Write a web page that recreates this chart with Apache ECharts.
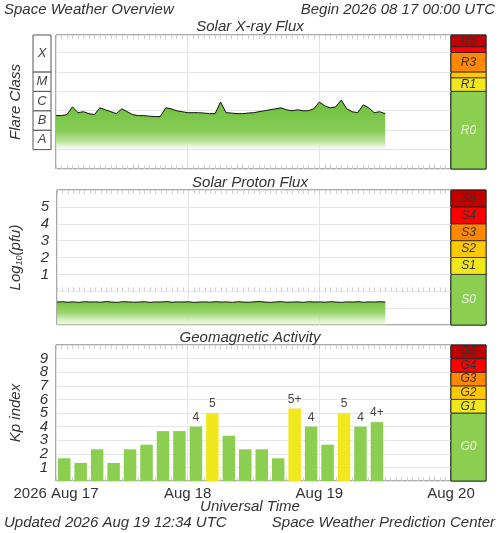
<!DOCTYPE html>
<html><head><meta charset="utf-8">
<script src="https://cdn.jsdelivr.net/npm/echarts@6/dist/echarts.min.js"></script>
<style>html,body{margin:0;padding:0;background:#fff}#c{width:500px;height:533px}</style>
</head><body><div id="c"></div>
<script>
// hours since 2026 Aug 17 00:00 UTC
const xrayHours = Array.from({length:61},(_, i)=>i);
const xrayLog = [-6.25,-6.25,-6.2,-5.8,-6.1,-6.05,-6.15,-6.2,-5.85,-5.95,-6.05,-6.15,-5.9,-6.05,-6.2,-6.25,-6.25,-6.28,-6.3,-6.3,-5.85,-5.9,-6.0,-6.05,-6.1,-6.1,-6.1,-6.12,-6.15,-6.15,-5.55,-6.1,-6.12,-6.15,-6.15,-6.12,-6.1,-6.05,-6.0,-5.95,-5.9,-5.85,-5.95,-6.0,-5.95,-6.0,-6.0,-5.9,-5.55,-5.75,-5.85,-5.8,-5.45,-5.9,-6.05,-6.1,-5.7,-5.85,-6.1,-6.05,-6.15];
const protonLog = [-0.64,-0.62,-0.65,-0.63,-0.66,-0.62,-0.64,-0.63,-0.65,-0.61,-0.64,-0.66,-0.62,-0.63,-0.65,-0.64,-0.62,-0.66,-0.63,-0.64,-0.61,-0.65,-0.63,-0.64,-0.62,-0.66,-0.64,-0.63,-0.65,-0.62,-0.64,-0.63,-0.66,-0.62,-0.64,-0.65,-0.63,-0.61,-0.64,-0.66,-0.63,-0.62,-0.65,-0.64,-0.63,-0.66,-0.62,-0.64,-0.63,-0.65,-0.62,-0.64,-0.66,-0.63,-0.64,-0.62,-0.65,-0.63,-0.64,-0.62,-0.64];
const kpHours = [1.5,4.5,7.5,10.5,13.5,16.5,19.5,22.5,25.5,28.5,31.5,34.5,37.5,40.5,43.5,46.5,49.5,52.5,55.5,58.5];
const kpValues = [1.67,1.33,2.33,1.33,2.33,2.67,3.67,3.67,4,5,3.33,2.33,2.33,1.67,5.33,4,2.67,5,4,4.33];
const kpLabels = ['','','','','','','','','4','5','','','','','5+','4','','5','4','4+'];
const dayTicks = [0,24,48,72];
const dayLabels = ['2026 Aug 17','Aug 18','Aug 19','Aug 20'];
const flareClasses = [['A',-8,-7],['B',-7,-6],['C',-6,-5],['M',-5,-4],['X',-4,-2.1]];
const rScale = [['R0',-9,-5,'#8cce50'],['R1',-5,-4.3,'#f0e81c'],['',-4.3,-4,'#ffc800'],['R3',-4,-3,'#ff8800'],['',-3,-2.7,'#ff0000'],['R5',-2.7,-2.1,'#c00000']];
const sScale = [['S0',-2,1,'#8cce50'],['S1',1,2,'#f0e81c'],['S2',2,3,'#ffc800'],['S3',3,4,'#ff8800'],['S4',4,5,'#ff0000'],['S5',5,6,'#c00000']];
const gScale = [['G0',0,5,'#8cce50'],['G1',5,6,'#f0e81c'],['G2',6,7,'#ffc800'],['G3',7,8,'#ff8800'],['G4',8,9,'#ff0000'],['G5',9,10,'#c00000']];

const F = 'Liberation Sans';
const txt = '#333';
const chart = echarts.init(document.getElementById('c'));
const panels = [{top:35,h:134,min:-9,max:-2.1},{top:190,h:135,min:-2,max:6},{top:345,h:136,min:0,max:10}];
const grids=[], xAxes=[], yAxes=[], series=[];
function addGrid(g){grids.push(g);return grids.length-1;}
panels.forEach((p,pi)=>{
  const gi = addGrid({left:51,width:400,top:p.top,height:p.h,show:true,borderColor:'#555',borderWidth:1,backgroundColor:'#fff'});
  ['bottom','top'].forEach(pos=>{
    xAxes.push({type:'value',gridIndex:gi,min:0,max:72,interval:24,position:pos,
      axisLine:{show:false},axisTick:{show:true,inside:true,length:4,lineStyle:{color:'#d0d0d0'}},
      minorTick:{show:true,splitNumber:24,length:4,lineStyle:{color:'#d0d0d0'}},
      axisLabel:{show:pos==='bottom'&&pi===2,fontFamily:F,fontSize:15,color:txt,margin:5,
        formatter:v=>dayLabels[dayTicks.indexOf(v)]||''},
      splitLine:{show:pos==='bottom',lineStyle:{color:'#e6e6e6'}}});
  });
  yAxes.push({type:'value',gridIndex:gi,min:p.min,max:p.max,interval:1,
    axisLine:{show:false},axisTick:{show:false},
    axisLabel:{show:pi>0,fontFamily:F,fontStyle:'italic',fontSize:15,color:txt,margin:8,
      formatter:v=>(v>=1&&v<=(pi===1?5:9))?String(v):''},
    splitLine:{show:true,lineStyle:{color:'#e6e6e6'}},
    name:['Flare Class','{a|Log}{s|10}{a|(pfu)}','Kp index'][pi],nameLocation:'middle',nameRotate:90,
    nameGap:33,nameTextStyle:{fontFamily:F,fontStyle:'italic',fontSize:15,color:txt,
      rich:{a:{fontFamily:F,fontStyle:'italic',fontSize:15,color:txt},s:{fontFamily:F,fontStyle:'italic',fontSize:9,color:txt,verticalAlign:'bottom',padding:[8,0,0,0]}}}});
  const ax = xAxes.length-2, ay = yAxes.length-1;
  const fill0 = {type:'linear',x:0,y:0,x2:0,y2:1,colorStops:[{offset:0,color:'#6cbf3a'},{offset:0.45,color:'#88cc58'},{offset:0.62,color:'#c4e6a8'},{offset:0.75,color:'rgba(255,255,255,0)'}]};
  const fill1 = {type:'linear',x:0,y:0,x2:0,y2:1,colorStops:[{offset:0,color:'#76c340'},{offset:0.5,color:'#9ad670'},{offset:1,color:'rgba(210,240,190,0.3)'}]};
  if(pi===0) series.push({type:'line',xAxisIndex:ax,yAxisIndex:ay,data:xrayHours.map((h,i)=>[h,xrayLog[i]]),showSymbol:false,lineStyle:{color:'#111',width:1},areaStyle:{color:fill0,origin:'start',opacity:1}});
  if(pi===1) series.push({type:'line',xAxisIndex:ax,yAxisIndex:ay,data:xrayHours.map((h,i)=>[h,protonLog[i]]),showSymbol:false,lineStyle:{color:'#111',width:1},areaStyle:{color:fill1,origin:'start',opacity:1}});
  if(pi===2) series.push({type:'bar',xAxisIndex:ax,yAxisIndex:ay,barWidth:12.5,
    data:kpHours.map((h,i)=>({value:[h,kpValues[i]],itemStyle:{color:kpValues[i]>=5?'#f0e81c':'#8cce50'},
      label:{show:true,position:'top',formatter:kpLabels[i],fontFamily:F,fontSize:12,color:'#444',distance:3}}))});
  const sg = addGrid({left:451,width:35,top:p.top,height:p.h,show:true,borderColor:'#222',borderWidth:1});
  xAxes.push({type:'value',gridIndex:sg,min:0,max:1,show:false});
  yAxes.push({type:'value',gridIndex:sg,min:p.min,max:p.max,show:false});
  const sc=[rScale,sScale,gScale][pi];
  series.push({type:'line',xAxisIndex:xAxes.length-1,yAxisIndex:yAxes.length-1,data:[],
    markArea:{silent:true,data:sc.map(s=>[{yAxis:s[1],xAxis:0,itemStyle:{color:s[3],borderColor:'#222',borderWidth:0.8},
      label:{show:!!s[0],position:'inside',formatter:s[0],fontFamily:F,fontStyle:'italic',fontSize:12,color:s[1]===p.min?'#eef7e6':'#333'}},{yAxis:s[2],xAxis:1}])}});
});
const bg = addGrid({left:33,width:18,top:35,height:134});
xAxes.push({type:'value',gridIndex:bg,min:0,max:1,show:false});
yAxes.push({type:'value',gridIndex:bg,min:-9,max:-2.1,show:false});
series.push({type:'line',xAxisIndex:xAxes.length-1,yAxisIndex:yAxes.length-1,data:[],
  markArea:{silent:true,data:flareClasses.map(c=>[{yAxis:c[1],xAxis:0,itemStyle:{color:'#fff',borderColor:'#555',borderWidth:1},
    label:{show:true,position:'inside',formatter:c[0],fontFamily:F,fontStyle:'italic',fontSize:13,color:'#444'}},{yAxis:c[2],xAxis:1}])}});

const T=(text,left,top,extra)=>Object.assign({text,left,top,padding:0,textStyle:{fontFamily:F,fontStyle:'italic',fontWeight:'normal',fontSize:15,color:txt}},extra||{});
chart.setOption({animation:false,
  title:[T('Space Weather Overview',4,2),T('Begin 2026 08 17 00:00 UTC',null,2,{right:5}),
    T('Solar X-ray Flux','center',19),T('Solar Proton Flux','center',175),T('Geomagnetic Activity','center',330),
    T('Universal Time','center',499),T('Updated 2026 Aug 19 12:34 UTC',4,515),T('Space Weather Prediction Center',null,515,{right:5})],
  grid:grids,xAxis:xAxes,yAxis:yAxes,series});
</script></body></html>
